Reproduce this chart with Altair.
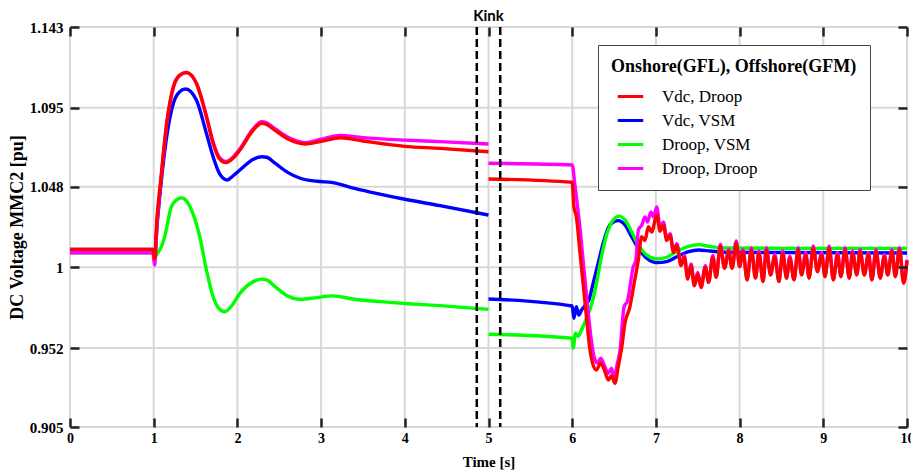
import altair as alt
import pandas as pd

# ---- series definitions -------------------------------------------------
SERIES = ["Vdc, Droop", "Vdc, VSM", "Droop, VSM", "Droop, Droop"]
COLORS = ["#ff0000", "#0000ff", "#00ff00", "#ff00ff"]

# axis ticks
x_ticks = [0, 1, 2, 3, 4, 5, 6, 7, 8, 9, 10]
y_ticks = [0.905, 0.952, 1.0, 1.048, 1.095, 1.143]
kink_t = [4.86, 5.14]

# ---- segment A: 0 s .. 5 s ---------------------------------------------
red_a_t = [0.0, 0.99, 1.01, 1.04, 1.08, 1.155, 1.235, 1.31, 1.39, 1.51, 1.63, 1.71,
           1.78, 1.864, 1.95, 2.03, 2.19, 2.29, 2.35, 2.45, 2.6, 2.81, 3.0, 3.23,
           3.5, 4.0, 4.42, 5.0]
red_a_v = [1.0107, 1.0107, 1.0050, 1.0300, 1.0500, 1.0857, 1.1075, 1.1144, 1.1160,
           1.1095, 1.0896, 1.0738, 1.0650, 1.0623, 1.0650, 1.0698, 1.0817, 1.0857,
           1.0850, 1.0815, 1.0765, 1.0734, 1.0750, 1.0771, 1.0752, 1.0720, 1.0708,
           1.0688]

magenta_a_t = [0.0, 0.99, 1.01, 1.04, 1.08, 1.155, 1.235, 1.31, 1.39, 1.51, 1.63,
               1.71, 1.78, 1.864, 1.95, 2.03, 2.19, 2.29, 2.35, 2.45, 2.6, 2.81, 3.0,
               3.23, 3.5, 4.0, 4.42, 5.0]
magenta_a_v = [1.0087, 1.0087, 1.0014, 1.0260, 1.0480, 1.0850, 1.1070, 1.1140,
               1.1157, 1.1095, 1.0900, 1.0745, 1.0657, 1.0630, 1.0657, 1.0705,
               1.0825, 1.0866, 1.0860, 1.0825, 1.0775, 1.0742, 1.0762, 1.0785,
               1.0772, 1.0757, 1.0748, 1.0734]

blue_a_t = [0.0, 0.99, 1.01, 1.04, 1.08, 1.155, 1.235, 1.31, 1.38, 1.51, 1.63, 1.71,
            1.79, 1.88, 1.95, 2.03, 2.19, 2.29, 2.35, 2.45, 2.6, 2.75, 2.95, 3.14,
            3.4, 3.66, 4.0, 4.42, 5.0]
blue_a_v = [1.0107, 1.0107, 1.0060, 1.0250, 1.0460, 1.0777, 1.0976, 1.1045, 1.1061,
            1.0996, 1.0797, 1.0658, 1.0555, 1.0520, 1.0545, 1.0579, 1.0643, 1.0658,
            1.0655, 1.0620, 1.0565, 1.0530, 1.0512, 1.0504, 1.0470, 1.0440, 1.0405,
            1.0367, 1.0311]

green_a_t = [0.0, 1.0, 1.02, 1.06, 1.09, 1.13, 1.21, 1.27, 1.334, 1.434, 1.55, 1.63,
             1.71, 1.78, 1.85, 1.93, 2.03, 2.19, 2.29, 2.35, 2.45, 2.6, 2.75, 2.95,
             3.13, 3.4, 3.7, 4.0, 4.42, 5.0]
green_a_v = [1.0087, 1.0087, 1.0065, 1.0095, 1.0120, 1.0180, 1.0360, 1.0400, 1.0414,
             1.0360, 1.0182, 0.9984, 0.9825, 0.9755, 0.9736, 0.9770, 0.9845, 0.9915,
             0.9930, 0.9925, 0.9885, 0.9830, 0.9810, 0.9820, 0.9830, 0.9810, 0.9796,
             0.9785, 0.9772, 0.9750]

# ---- segment B: 5 s .. 10 s --------------------------------------------
red_b_t = [5.0, 6.0, 6.02, 6.05, 6.09, 6.13, 6.17, 6.21, 6.25, 6.29, 6.34, 6.39, 6.43,
           6.47, 6.51, 6.55, 6.59, 6.63, 6.69, 6.74, 6.79, 6.83, 6.87, 6.91, 6.95,
           7.01, 7.05, 7.09, 7.13, 7.17, 7.21, 7.25, 7.30, 7.34, 7.38, 7.42, 7.46,
           7.50, 7.54, 7.59, 7.63, 7.68, 7.72]
red_b_v = [1.0526, 1.0506, 1.0360, 1.0300, 1.0103, 0.9905, 0.9706, 0.9518, 0.9419,
           0.9389, 0.9431, 0.9381, 0.9330, 0.9355, 0.9310, 0.9409, 0.9518, 0.9667,
           0.9766, 0.9905, 1.0044, 1.0182, 1.0160, 1.0242, 1.0210, 1.0311, 1.0215,
           1.0250, 1.0160, 1.0190, 1.0090, 1.0130, 1.0010, 1.0060, 0.9930, 1.0010,
           0.9890, 0.9960, 0.9880, 1.0000, 0.9910, 1.0060, 0.9940]

magenta_b_t = [5.0, 6.0, 6.03, 6.05, 6.10, 6.14, 6.18, 6.22, 6.26, 6.30, 6.34, 6.39,
               6.43, 6.47, 6.50, 6.54, 6.57, 6.62, 6.66, 6.73, 6.76, 6.79, 6.83, 6.87,
               6.90, 6.94, 6.97, 7.01, 7.05, 7.09, 7.13, 7.17, 7.21, 7.25, 7.30, 7.34,
               7.38, 7.42, 7.46, 7.50, 7.54, 7.59, 7.63, 7.68, 7.72]
magenta_b_v = [1.0619, 1.0609, 1.0500, 1.0420, 1.0200, 0.9990, 0.9790, 0.9600, 0.9470,
               0.9430, 0.9460, 0.9410, 0.9370, 0.9400, 0.9340, 0.9430, 0.9500, 0.9766,
               0.9800, 1.0004, 1.0040, 1.0222, 1.0250, 1.0300, 1.0270, 1.0330, 1.0300,
               1.0360, 1.0240, 1.0270, 1.0175, 1.0200, 1.0100, 1.0140, 1.0020, 1.0070,
               0.9940, 1.0020, 0.9895, 0.9970, 0.9885, 1.0010, 0.9915, 1.0070, 0.9945]

# sustained ripple of the droop-controlled cases (7.77 s .. 10 s)
ripple_t = [7.77, 7.82, 7.87, 7.91, 7.96, 8.00, 8.04, 8.09, 8.14, 8.19, 8.23, 8.28,
            8.32, 8.37, 8.42, 8.47, 8.515, 8.56, 8.60, 8.65, 8.70, 8.74, 8.79, 8.83,
            8.88, 8.93, 8.98, 9.02, 9.07, 9.12, 9.17, 9.21, 9.26, 9.31, 9.35, 9.40,
            9.44, 9.49, 9.54, 9.58, 9.63, 9.68, 9.73, 9.77, 9.82, 9.86, 9.91, 9.96,
            10.0]
ripple_red = [1.0124, 0.9994, 1.0094, 0.9994, 1.0144, 1.0004, 1.0094, 0.9925, 1.0104,
              0.9935, 1.0084, 0.9915, 1.0104, 0.9954, 1.0064, 0.9915, 1.0084, 0.9935,
              1.0054, 0.9925, 1.0104, 0.9954, 1.0075, 0.9935, 1.0114, 0.9974, 1.0075,
              0.9944, 1.0114, 0.9925, 1.0075, 0.9944, 1.0104, 0.9935, 1.0084, 0.9954,
              1.0094, 0.9954, 1.0075, 0.9925, 1.0094, 0.9935, 1.0064, 0.9954, 1.0094,
              0.9944, 1.0104, 0.9905, 1.0040]
ripple_magenta = [1.0137, 0.9999, 1.0107, 0.9999, 1.0157, 1.0009, 1.0107, 0.9930,
                  1.0117, 0.9940, 1.0097, 0.9920, 1.0117, 0.9959, 1.0077, 0.9920,
                  1.0097, 0.9940, 1.0067, 0.9930, 1.0117, 0.9959, 1.0088, 0.9940,
                  1.0127, 0.9979, 1.0088, 0.9949, 1.0127, 0.9930, 1.0088, 0.9949,
                  1.0117, 0.9940, 1.0097, 0.9959, 1.0107, 0.9959, 1.0088, 0.9930,
                  1.0107, 0.9940, 1.0077, 0.9959, 1.0107, 0.9949, 1.0117, 0.9910,
                  1.0045]

blue_b_t = [5.0, 6.0, 6.02, 6.05, 6.08, 6.11, 6.15, 6.20, 6.25, 6.31, 6.37, 6.45, 6.55,
            6.63, 6.71, 6.79, 6.89, 7.01, 7.13, 7.25, 7.39, 7.51, 7.65, 7.84, 8.5, 10.0]
blue_b_v = [0.9812, 0.9770, 0.9697, 0.9766, 0.9716, 0.9745, 0.9770, 0.9806, 0.9905,
            1.0024, 1.0143, 1.0252, 1.0278, 1.0252, 1.0182, 1.0113, 1.0054, 1.0028,
            1.0034, 1.0063, 1.0093, 1.0103, 1.0097, 1.0090, 1.0088, 1.0085]

green_b_t = [5.0, 6.0, 6.01, 6.04, 6.07, 6.11, 6.17, 6.23, 6.29, 6.35, 6.41, 6.49, 6.56,
             6.63, 6.71, 6.79, 6.89, 7.01, 7.13, 7.25, 7.39, 7.51, 7.65, 7.84, 8.5, 10.0]
green_b_v = [0.9602, 0.9578, 0.9518, 0.9608, 0.9590, 0.9627, 0.9697, 0.9776, 0.9905,
             1.0063, 1.0192, 1.0282, 1.0305, 1.0282, 1.0212, 1.0133, 1.0073, 1.0050,
             1.0060, 1.0095, 1.0125, 1.0135, 1.0123, 1.0115, 1.0113, 1.0113]

# ---- long-form table ----------------------------------------------------
segments = [
    ("Vdc, Droop", "a", red_a_t, red_a_v),
    ("Vdc, Droop", "b", red_b_t + ripple_t, red_b_v + ripple_red),
    ("Droop, Droop", "a", magenta_a_t, magenta_a_v),
    ("Droop, Droop", "b", magenta_b_t + ripple_t, magenta_b_v + ripple_magenta),
    ("Vdc, VSM", "a", blue_a_t, blue_a_v),
    ("Vdc, VSM", "b", blue_b_t, blue_b_v),
    ("Droop, VSM", "a", green_a_t, green_a_v),
    ("Droop, VSM", "b", green_b_t, green_b_v),
]
rows = []
for name, seg, ts, vs in segments:
    for i, (t, v) in enumerate(zip(ts, vs)):
        rows.append({"series": name, "seg": seg, "order": i, "t": t, "v": v})
df = pd.DataFrame(rows)

W, H = 837, 400
SERIF = "Liberation Serif"

xscale = alt.Scale(domain=[0, 10], nice=False, zero=False)
yscale = alt.Scale(domain=[0.905, 1.143], nice=False, zero=False)
cscale = alt.Scale(domain=SERIES, range=COLORS)

legend = alt.Legend(
    title="Onshore(GFL), Offshore(GFM)",
    orient="none", legendX=528, legendY=18,
    fillColor="white", strokeColor="#444", padding=13,
    titleFont=SERIF, titleFontSize=18, titleFontWeight="bold", titleColor="black",
    titlePadding=6, titleLimit=500,
    labelFont=SERIF, labelFontSize=17, labelColor="black", labelOffset=17,
    labelLimit=300,
    symbolType="stroke", symbolStrokeWidth=3, symbolSize=650, symbolOffset=5,
    rowPadding=1,
)

# grid
grid_x = alt.Chart(pd.DataFrame({"t": x_ticks})).mark_rule(
    color="#d8d8d8", strokeWidth=2
).encode(x=alt.X("t:Q", scale=xscale, axis=None))
grid_y = alt.Chart(pd.DataFrame({"v": y_ticks})).mark_rule(
    color="#d8d8d8", strokeWidth=2
).encode(y=alt.Y("v:Q", scale=yscale, axis=None))


def series_line(name):
    return alt.Chart(df).transform_filter(alt.datum.series == name).mark_line(
        strokeWidth=3.4, interpolate="monotone"
    ).encode(
        x=alt.X("t:Q", scale=xscale, axis=None),
        y=alt.Y("v:Q", scale=yscale, axis=None),
        color=alt.Color("series:N", scale=cscale, legend=legend),
        detail="seg:N",
        order="order:Q",
    )


lines = [series_line(s) for s in ["Vdc, VSM", "Droop, VSM", "Droop, Droop", "Vdc, Droop"]]

kink = alt.Chart(pd.DataFrame({"t": kink_t})).mark_rule(
    color="black", strokeWidth=2.5, strokeDash=[8, 4]
).encode(x=alt.X("t:Q", scale=xscale, axis=None))

tick_style = dict(tickSize=9, tickWidth=2.5, tickColor="#222", domain=False, grid=False,
                  zindex=1)

# labelled axes: ticks point into the plot, labels sit outside
main_axes = alt.Chart(df).mark_point(opacity=0).encode(
    x=alt.X("t:Q", scale=xscale, axis=alt.Axis(
        orient="top", offset=-H, values=x_ticks, format="d",
        labelFont=SERIF, labelFontSize=14, labelFontWeight="bold", labelColor="black",
        labelBaseline="top", labelPadding=-13, labelFlush=False,
        title="Time [s]", titleFont=SERIF, titleFontSize=15, titleFontWeight="bold",
        titleColor="black", titleX=W / 2, titleY=34, titleBaseline="middle",
        **tick_style)),
    y=alt.Y("v:Q", scale=yscale, axis=alt.Axis(
        orient="right", offset=-W, values=y_ticks, format=".3~f",
        labelFont=SERIF, labelFontSize=15, labelFontWeight="bold", labelColor="black",
        labelAlign="right", labelBaseline="middle", labelPadding=-16, labelFlush=False,
        title="DC Voltage MMC2 [pu]", titleFont=SERIF, titleFontSize=18,
        titleFontWeight="bold", titleColor="black", titleAngle=270,
        titleX=-53, titleY=H / 2, titleAlign="center", titleBaseline="middle",
        **tick_style)),
)

# opposite-side ticks (top and right borders)
edge_ticks = alt.Chart(df).mark_point(opacity=0).encode(
    x=alt.X("t:Q", scale=xscale, axis=alt.Axis(
        orient="bottom", offset=-H, values=x_ticks, labels=False, title=None,
        **tick_style)),
    y=alt.Y("v:Q", scale=yscale, axis=alt.Axis(
        orient="left", offset=-W, values=y_ticks, labels=False, title=None,
        **tick_style)),
)

chart = alt.layer(
    grid_x, grid_y, *lines, kink, main_axes, edge_ticks
).resolve_axis(
    x="independent", y="independent"
).properties(
    width=W, height=H,
    title=alt.TitleParams("Kink", font="Lato", fontSize=15, fontWeight="bold",
                          color="black", anchor="middle", frame="group", offset=7,
                          dy=11),
    autosize=alt.AutoSizeParams(type="none"),
    padding={"left": 70, "top": 27, "right": 4, "bottom": 44},
).configure_view(
    stroke="#222", strokeWidth=3
).configure(background="white")

chart.save("out.html", embed_options={"renderer": "svg", "actions": False})
